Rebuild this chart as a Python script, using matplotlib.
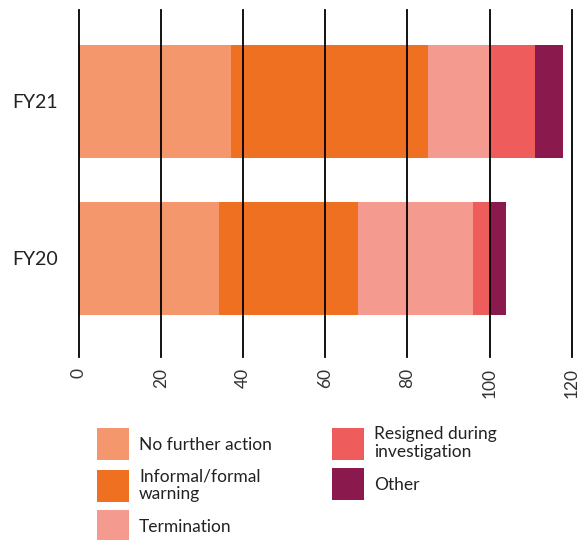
"""Stacked horizontal bars of investigation outcomes, FY20 vs FY21."""

import matplotlib
matplotlib.use("Agg")
import matplotlib.pyplot as plt

YEARS = ["FY20", "FY21"]
OUTCOMES = ["No further action", "Informal/formal\nwarning", "Termination",
            "Resigned during\ninvestigation", "Other"]
COLORS = ["#F5976C", "#F07022", "#F49A8F", "#EF5C5C", "#8A1A4E"]

# counts per outcome, ordered as YEARS
NO_FURTHER_ACTION = [34, 37]
WARNING = [34, 48]
TERMINATION = [28, 15]
RESIGNED = [4, 11]
OTHER = [4, 7]

XTICKS = [0, 20, 40, 60, 80, 100, 120]

plt.rcParams["font.family"] = ["Lato", "DejaVu Sans"]


def main():
    fig = plt.figure(figsize=(5.83, 5.4), dpi=100)
    ax = fig.add_axes([0.1355, 0.339, 0.845, 0.6425])

    series = [NO_FURTHER_ACTION, WARNING, TERMINATION, RESIGNED, OTHER]
    left = [0] * len(YEARS)
    for vals, label, color in zip(series, OUTCOMES, COLORS):
        ax.barh(YEARS, vals, left=left, height=0.72, color=color,
                label=label, zorder=1)
        left = [l + v for l, v in zip(left, vals)]

    ax.set_xlim(0, 120)
    ax.set_ylim(-0.63, 1.58)
    ax.set_xticks(XTICKS)
    ax.set_xticklabels([str(t) for t in XTICKS], rotation=90,
                       fontsize=12.5, color="#333333", va="top")
    ax.tick_params(axis="x", length=0, pad=8)
    ax.tick_params(axis="y", length=0, pad=15, labelsize=14,
                   labelcolor="#222222")
    for s in ax.spines.values():
        s.set_visible(False)
    ax.grid(axis="x", color="black", linewidth=1.3, zorder=3)
    ax.set_axisbelow(False)
    for line in ax.get_xgridlines():
        line.set_clip_on(False)

    # legend squares ~32 px, rows 42 px apart
    handles, labels = ax.get_legend_handles_labels()
    leg = fig.legend(handles, labels, ncol=2, loc="upper left",
                     bbox_to_anchor=(0.1664, 0.211), frameon=False,
                     fontsize=12.5, handlelength=1.84, handleheight=2.46,
                     handletextpad=0.58, labelspacing=0.46,
                     columnspacing=3.48, borderaxespad=0, borderpad=0,
                     labelcolor="#222222")
    for t in leg.get_texts():
        t.set_linespacing(1.15)

    fig.savefig("out.png", dpi=100)
    plt.close(fig)


if __name__ == "__main__":
    main()
